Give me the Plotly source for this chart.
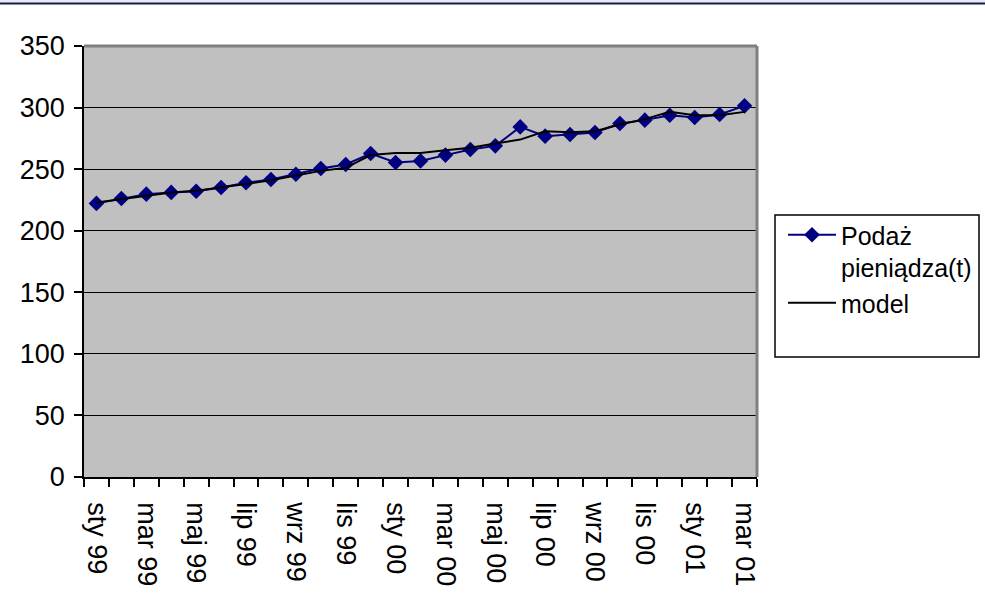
import plotly.graph_objects as go

months = ["sty 99", "lut 99", "mar 99", "kwi 99", "maj 99", "cze 99", "lip 99", "sie 99",
          "wrz 99", "paź 99", "lis 99", "gru 99", "sty 00", "lut 00", "mar 00", "kwi 00",
          "maj 00", "cze 00", "lip 00", "sie 00", "wrz 00", "paź 00", "lis 00", "gru 00",
          "sty 01", "lut 01", "mar 01"]
tick_text = [m if i % 2 == 0 else "" for i, m in enumerate(months)]

podaz = [222.2, 226.2, 229.7, 231.1, 232.1, 235.1, 238.9, 241.6, 245.9, 250.5, 253.8,
         262.7, 255.4, 256.7, 261.4, 266.0, 268.9, 284.3, 276.8, 278.1, 279.8, 287.1,
         289.8, 293.8, 291.9, 294.4, 301.4]
model = [223.0, 225.5, 228.5, 231.0, 232.5, 235.0, 238.0, 241.0, 245.1, 248.6, 251.1,
         261.4, 263.2, 263.2, 265.4, 267.3, 270.8, 274.0, 280.8, 280.0, 280.8, 286.3,
         290.6, 296.5, 293.8, 293.8, 296.5]

FONT = "Liberation Sans, Arial, sans-serif"

fig = go.Figure()
fig.add_trace(go.Scatter(
    x=months, y=podaz, name="Podaż<br>pieniądza(t)", mode="lines+markers",
    line=dict(color="#000080", width=2),
    marker=dict(symbol="diamond", size=12, color="#000080"),
))
fig.add_trace(go.Scatter(
    x=months, y=model, name="model", mode="lines",
    line=dict(color="#000000", width=2),
))

L, R, T, B = 84, 228, 46, 138
W, H = 985, 615
pw, ph = W - L - R, H - T - B

def px_x(x):
    return (x - L) / pw

def px_y(y):
    return (H - B - y) / ph

fig.update_layout(
    width=W, height=H,
    margin=dict(l=L, r=R, t=T, b=B, pad=0, autoexpand=False),
    paper_bgcolor="white",
    plot_bgcolor="#C0C0C0",
    font=dict(family=FONT, size=26, color="black"),
    showlegend=True,
    legend=dict(
        x=px_x(783), y=px_y(212), xanchor="left", yanchor="top",
        bgcolor="rgba(0,0,0,0)", borderwidth=0,
        font=dict(family=FONT, size=25, color="black"),
        valign="top", itemwidth=48, tracegroupgap=0,
    ),
    xaxis=dict(
        type="category", categoryorder="array", categoryarray=months,
        tickmode="array", tickvals=months, ticktext=tick_text,
        tickson="boundaries", ticks="outside", ticklen=8, tickcolor="black", tickwidth=1.5,
        tickangle=90, showgrid=False, showline=True, linecolor="black", linewidth=1.5,
        zeroline=False, range=[-0.5, 26.5], ticklabelstandoff=18,
        tickfont=dict(family=FONT, size=27, color="black"),
    ),
    yaxis=dict(
        range=[0, 350], tickmode="linear", tick0=0, dtick=50,
        ticks="outside", ticklen=8, tickcolor="black", tickwidth=1.5,
        showgrid=True, gridcolor="black", gridwidth=1,
        showline=True, linecolor="black", linewidth=1.5, zeroline=False,
        tickfont=dict(family=FONT, size=27, color="black"),
        ticklabelstandoff=4,
    ),
    shapes=[
        dict(type="line", xref="paper", yref="paper", x0=0, x1=1, y0=1, y1=1,
             line=dict(color="#808080", width=3)),
        dict(type="line", xref="paper", yref="paper", x0=1, x1=1, y0=0, y1=1,
             line=dict(color="#808080", width=3)),
        dict(type="rect", xref="paper", yref="paper",
             x0=px_x(775), x1=px_x(979), y0=px_y(357), y1=px_y(215),
             line=dict(color="black", width=1.5), fillcolor="rgba(0,0,0,0)"),
        dict(type="rect", xref="paper", yref="paper",
             x0=px_x(0), x1=px_x(W), y0=px_y(2.5), y1=px_y(0),
             line=dict(width=0), fillcolor="#E8E8FF"),
        dict(type="line", xref="paper", yref="paper",
             x0=px_x(0), x1=px_x(W), y0=px_y(3.5), y1=px_y(3.5),
             line=dict(color="#1A1A40", width=2)),
    ],
)

fig.write_html("out.html")
